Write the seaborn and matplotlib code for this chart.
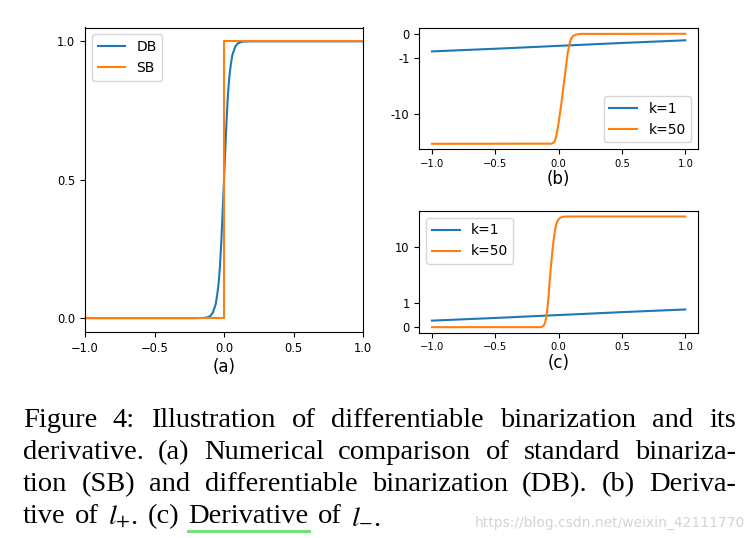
import matplotlib
matplotlib.use('Agg')
import matplotlib.pyplot as plt
import seaborn as sns
from matplotlib.lines import Line2D

# ==== DATA ====
# (a) standard vs differentiable binarization
A_DB_X = [-1.0, -0.2, -0.14, -0.12, -0.10, -0.08, -0.06, -0.05, -0.04, -0.03, -0.02, -0.01, 0.0,
          0.01, 0.02, 0.03, 0.04, 0.05, 0.06, 0.08, 0.10, 0.12, 0.14, 0.2, 1.0]
A_DB_Y = [0.0, 0.0, 0.001, 0.003, 0.007, 0.02, 0.05, 0.08, 0.12, 0.18, 0.27, 0.38, 0.5,
          0.62, 0.73, 0.82, 0.88, 0.92, 0.95, 0.98, 0.993, 0.997, 0.999, 1.0, 1.0]
A_SB_X = [-1.0, 0.0, 0.0, 1.0]
A_SB_Y = [0.0, 0.0, 1.0, 1.0]

# (b) derivative of l+
B_K1_X = [-1.0, -0.5, 0.0, 0.5, 1.0]
B_K1_Y = [-0.73, -0.62, -0.5, -0.38, -0.27]
B_K50_X = [-1.0, -0.06, -0.04, -0.03, -0.02, -0.01, 0.0, 0.01, 0.02, 0.03, 0.04,
           0.05, 0.06, 0.07, 0.08, 0.09, 0.10, 0.12, 0.14, 0.17, 1.0]
B_K50_Y = [-35, -34.8, -33.5, -31, -26, -20, -14.5, -10, -7, -4.6, -3.0,
           -2.0, -1.3, -0.85, -0.55, -0.33, -0.18, -0.07, -0.03, -0.005, 0.0]

# (c) derivative of l-
C_K1_X = [-1.0, -0.5, 0.0, 0.5, 1.0]
C_K1_Y = [0.27, 0.38, 0.5, 0.62, 0.73]
C_K50_X = [-1.0, -0.14, -0.12, -0.11, -0.10, -0.09, -0.08, -0.07, -0.06, -0.05,
           -0.04, -0.03, -0.02, -0.01, 0.0, 0.02, 0.04, 0.07, 1.0]
C_K50_Y = [0.0, 0.0, 0.05, 0.15, 0.35, 0.7, 1.3, 2.6, 4.8, 8.2,
           13, 19, 25, 29, 31.5, 34, 34.8, 35, 35]

X_TICKS = [-1.0, -0.5, 0.0, 0.5, 1.0]
A_Y_TICKS = [0.0, 0.5, 1.0]
B_Y_TICKS = [0, -1, -10]
B_Y_LABELS = ['0', '-1', '-10']
C_Y_TICKS = [0, 1, 10]
C_Y_LABELS = ['0', '1', '10']

CAPTION = [
    "Figure 4: Illustration of differentiable binarization and its",
    "derivative. (a) Numerical comparison of standard binariza-",
    "tion (SB) and differentiable binarization (DB). (b) Deriva-",
    r"tive of $l_{+}$. (c) Derivative of $l_{-}$.",
]
WATERMARK = "https://blog.csdn.net/weixin_42111770"

BLUE = '#1f77b4'
ORANGE = '#ff7f0e'
W, H = 755, 538

plt.rcParams['mathtext.fontset'] = 'stix'
fig = plt.figure(figsize=(W / 100, H / 100), dpi=100)


def box(left, top, right, bottom):
    return [left / W, 1 - bottom / H, (right - left) / W, (bottom - top) / H]


def line(ax, x, y, label, color):
    sns.lineplot(x=x, y=y, ax=ax, label=label, color=color, lw=1.5,
                 estimator=None, sort=False)


def symlog_axis(ax, ys, ticks, labels):
    ax.set_yscale('symlog', linthresh=1, linscale=0.39)
    # 5% margins in the scaled space, like matplotlib does on linear axes
    tr = ax.yaxis.get_transform()
    lo, hi = tr.transform([min(ys), max(ys)])
    pad = 0.05 * (hi - lo)
    ax.set_ylim(tr.inverted().transform([lo - pad, hi + pad]))
    ax.set_yticks(ticks)
    ax.set_yticklabels(labels)
    ax.minorticks_off()
    ax.set_xticks(X_TICKS)
    ax.tick_params(axis='x', labelsize=7.2)
    ax.tick_params(axis='y', labelsize=8.3)


# ---- (a) ----
ax_a = fig.add_axes(box(85, 27.5, 363, 332))
line(ax_a, A_DB_X, A_DB_Y, 'DB', BLUE)
line(ax_a, A_SB_X, A_SB_Y, 'SB', ORANGE)
ax_a.set_xlim(-1, 1)
ax_a.set_xticks(X_TICKS)
ax_a.set_yticks(A_Y_TICKS)
ax_a.tick_params(labelsize=8.3)
ax_a.set_xlabel('(a)', fontsize=12, labelpad=2)
ax_a.legend(loc='upper left', fontsize=10)

# ---- (b) ----
ax_b = fig.add_axes(box(419.3, 28.3, 698, 149.3))
line(ax_b, B_K1_X, B_K1_Y, 'k=1', BLUE)
line(ax_b, B_K50_X, B_K50_Y, 'k=50', ORANGE)
symlog_axis(ax_b, B_K1_Y + B_K50_Y, B_Y_TICKS, B_Y_LABELS)
ax_b.set_xlabel('(b)', fontsize=12, labelpad=1)
ax_b.legend(loc='lower right', fontsize=10)

# ---- (c) ----
ax_c = fig.add_axes(box(419.3, 211, 698, 332.7))
line(ax_c, C_K1_X, C_K1_Y, 'k=1', BLUE)
line(ax_c, C_K50_X, C_K50_Y, 'k=50', ORANGE)
symlog_axis(ax_c, C_K1_Y + C_K50_Y, C_Y_TICKS, C_Y_LABELS)
ax_c.set_xlabel('(c)', fontsize=12, labelpad=1)
ax_c.legend(loc='upper left', fontsize=10)

# ---- caption, justified like the paper ----
renderer = fig.canvas.get_renderer()
CAP_SIZE = 20.5
LEFT, RIGHT = 22.7, 736
BASELINES = [427, 459, 491, 523]
words_drawn = {}
for i, (txt, base) in enumerate(zip(CAPTION, BASELINES)):
    words = txt.split(' ')
    items = [fig.text(0, 1 - base / H, w, fontsize=CAP_SIZE, family='Liberation Serif',
                      va='baseline', ha='left') for w in words]
    widths = [t.get_window_extent(renderer).width for t in items]
    if i < len(CAPTION) - 1:
        gap = (RIGHT - LEFT - sum(widths)) / (len(words) - 1)
    else:
        gap = CAP_SIZE * 100 / 72 * 0.33
    x = LEFT
    for w, t, wd in zip(words, items, widths):
        t.set_x(x / W)
        words_drawn[(i, w)] = t
        x += wd + gap

# green underline below "Derivative" in the last line
bb = words_drawn[(3, 'Derivative')].get_window_extent(renderer)
fig.add_artist(Line2D([bb.x0 / W, bb.x1 / W], [1 - 531 / H, 1 - 531 / H],
                      color='#77e077', lw=2.2, transform=fig.transFigure))

# csdn watermark
wm = fig.text(475 / W, 1 - 527 / H, WATERMARK, fontsize=12, color='#d4d4d4',
              family=['Liberation Sans Narrow', 'DejaVu Sans'], va='baseline', ha='left')
wm_w = wm.get_window_extent(renderer).width
wm.set_fontsize(12 * 270 / wm_w)

fig.savefig('out.png', dpi=100, facecolor='white')
